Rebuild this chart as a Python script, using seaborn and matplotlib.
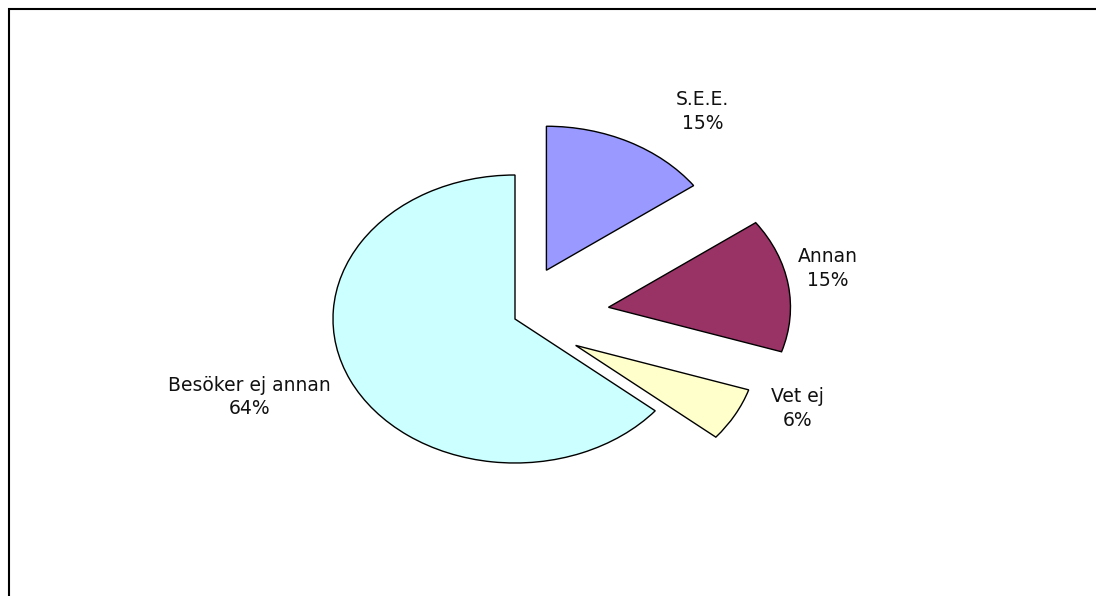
# Besöker annan? - pie chart
import matplotlib.pyplot as plt
import matplotlib.patches as mpatches
import seaborn as sns

sns.set_style("white")
plt.rcParams['font.family'] = ['DejaVu Sans']

labels = ["S.E.E.", "Annan", "Vet ej", "Besöker ej annan"]
shares = [15, 15, 6, 64]
colors = ["#9999FF", "#993366", "#FFFFCC", "#CCFFFF"]
explode = [0.38, 0.52, 0.38, 0.0]
# label centres in pie units (1 = radius)
label_xy = [(1.03, 1.44), (1.72, 0.35), (1.55, -0.62), (-1.46, -0.54)]

fig = plt.figure(figsize=(10.96, 5.96), dpi=100)
ax = fig.add_axes([0, 0, 1, 1])

wedges, texts = ax.pie(shares, labels=[f"{l}\n{s}%" for l, s in zip(labels, shares)],
                       colors=colors, explode=explode, startangle=90, counterclock=False,
                       wedgeprops=dict(edgecolor="black", linewidth=1.0),
                       textprops=dict(fontsize=13.5, color="#111111"))

for t, xy in zip(texts, label_xy):
    t.set_position(xy)
    t.set_ha("center")
    t.set_va("center")
    t.set_multialignment("center")
    t.set_linespacing(1.3)

# stretched pie: 1 unit = 182 px wide, 144 px tall, centre at (515, 319)
ax.set_aspect("auto")
ax.set_xlim(-515 / 182, (1096 - 515) / 182)
ax.set_ylim((319 - 596) / 144, 319 / 144)
ax.axis("off")

# chart frame (only left and top edges visible)
frame = mpatches.Rectangle((8.5 / 1096, -0.2), 1.2, 1.2 - 8.5 / 596,
                           transform=fig.transFigure, fill=False,
                           edgecolor="black", linewidth=1.5, clip_on=False)
fig.patches.append(frame)

fig.savefig("out.png", dpi=100)
